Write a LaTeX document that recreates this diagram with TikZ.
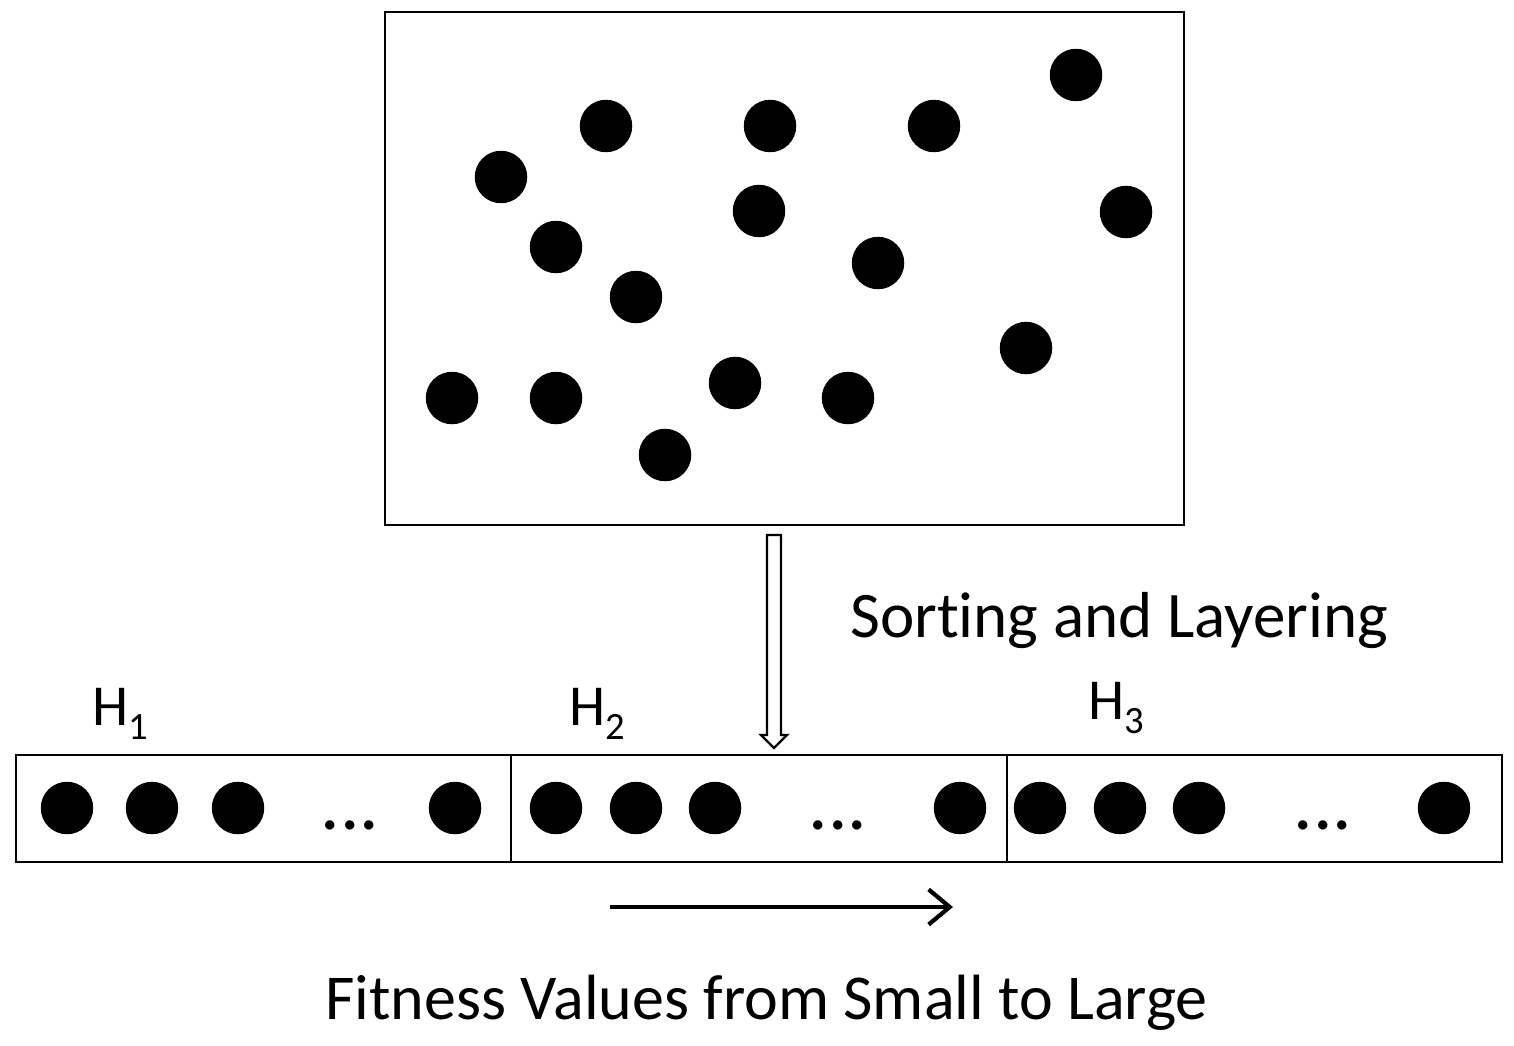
\documentclass[tikz,border=0pt]{standalone}
\usepackage{fontspec}
\setmainfont[Ligatures=NoCommon]{Carlito}
\usetikzlibrary{arrows.meta,calc}
\newcommand{\mysub}[1]{\raisebox{-8pt}{\fontsize{22}{22}\selectfont #1}}
\begin{document}
\begin{tikzpicture}[x=0.02cm,y=-0.02cm,
  dot/.style={fill=black,circle,inner sep=0pt,minimum size=1.05cm},
  frame/.style={draw=black,line width=1.4pt},
  lbl/.style={inner sep=0pt,anchor=base west},
  ell/.style={inner sep=0pt,anchor=base,font=\fontsize{44}{44}\selectfont}]
\useasboundingbox[fill=white] (0,0) rectangle (1514,1045);
% top box
\draw[frame] (385,12) rectangle (1184,525);
\coordinate (topS) at (774,535);
\foreach \x/\y [count=\i] in {606/126,770/126,934/126,1076/75,501/177,759/211,1126/212,556/247,878/263,636/297,1026/348,452/398,556/398,735/383,848/398,665/455}
  \node[dot] (t\i) at (\x,\y) {};
% bottom box
\draw[frame] (16,755) rectangle (1502,862);
\draw[frame] (511,755) -- (511,862);
\draw[frame] (1007,755) -- (1007,862);
\coordinate (botN) at (774,748);
\foreach \x [count=\i] in {67,152,238,455,556,636,715,960,1040,1120,1199,1444}
  \node[dot] (b\i) at (\x,808) {};
\node[ell] (e1) at (350,829) {...};
\node[ell] (e2) at (838,829) {...};
\node[ell] (e3) at (1323,829) {...};
% labels
\node[lbl,font=\fontsize{33}{33}\selectfont] (h1) at (92,725) {H\mysub{1}};
\node[lbl,font=\fontsize{33}{33}\selectfont] (h2) at (569,725) {H\mysub{2}};
\node[lbl,font=\fontsize{33}{33}\selectfont] (h3) at (1088,719) {H\mysub{3}};
% hollow arrow
\draw[line width=1.3pt,fill=white,line join=miter]
  ($(topS)+(-7,0)$) -- ($(botN)+(-7,-13)$) -- ($(botN)+(-13,-13)$) -- (botN)
  -- ($(botN)+(13,-13)$) -- ($(botN)+(7,-13)$) -- ($(topS)+(7,0)$) -- cycle;
\node[lbl,font=\fontsize{37}{37}\selectfont] (sort) at (850,637) {Sorting and Layering};
% fitness arrow
\coordinate (fa) at (610,907);
\coordinate (fb) at (953,907);
\draw[line width=2.4pt,-{Straight Barb[length=12pt,width=20pt,line width=2.4pt]}] (fa) -- (fb);
\node[lbl,font=\fontsize{36.4}{36.4}\selectfont] (fit) at (325,1019) {Fitness Values from Small to Large};
\end{tikzpicture}
\end{document}
